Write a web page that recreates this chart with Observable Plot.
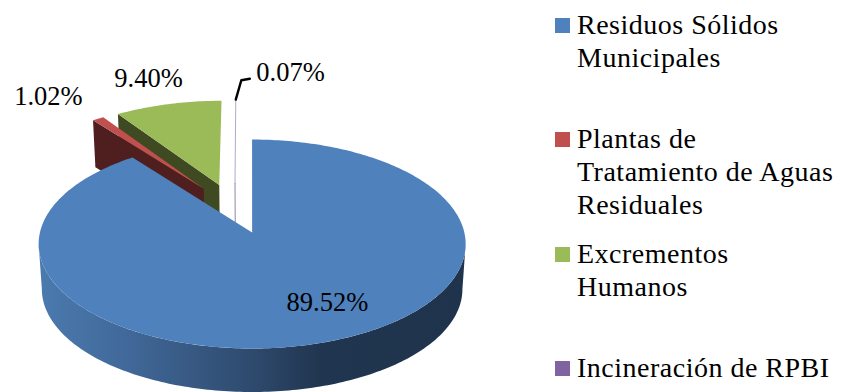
<!DOCTYPE html>
<html lang="es">
<head>
<meta charset="utf-8">
<script src="https://cdn.jsdelivr.net/npm/d3@7"></script>
<script src="https://cdn.jsdelivr.net/npm/@observablehq/plot@0.6"></script>
<style>
  html, body { margin: 0; padding: 0; background: #fff; }
  #chart { position: relative; width: 842px; height: 392px; overflow: hidden; font-family: "Liberation Serif", serif; }
  #chart svg { display: block; }
  .entry { position: absolute; left: 555px; color: #000; font-size: 28px; line-height: 33.2px; letter-spacing: 0.5px; white-space: nowrap; }
  .entry i { position: absolute; left: 0; top: 9.5px; width: 15px; height: 15px; }
  .entry span { display: block; margin-left: 22px; }
</style>
</head>
<body>
<div id="chart"></div>
<script>
// Generación de metano por fuente (porcentaje del total)
const categories = ["Residuos Sólidos Municipales", "Plantas de Tratamiento de Aguas Residuales", "Excrementos Humanos", "Incineración de RPBI"];
const shares = [89.52, 1.02, 9.40, 0.07];
const legendLines = [["Residuos Sólidos", "Municipales"], ["Plantas de", "Tratamiento de Aguas", "Residuales"], ["Excrementos", "Humanos"], ["Incineración de RPBI"]];
const topColors = ["#4f81bd", "#c0504d", "#9bbb59", "#8064a2"];
const cutColors = ["#2c4a6e", "#4f1f1f", "#3f4a23", "#8d8a9c"];
const labels = shares.map((d) => d.toFixed(2) + "%");

// Desplazamiento de cada porción sobre el plano del pastel, en radios
const explodeU = [0.003, -0.236, -0.16, -0.082];
const explodeV = [0, 0.445, 0.485, 0.5];
// Posición de las etiquetas y guía de la porción mínima, en unidades del plano proyectado
const labelX = [0.358, -0.957, -0.485, 0.184];
const labelY = [-0.678, 1.318, 1.492, 1.55];
const leaderX = [-0.048, -0.008];
const leaderY = [1.475, 1.49];
const legendTops = [8, 122, 237, 351];

// Perspectiva: el plano se acerca al frente y la base queda un poco más pequeña
const perspective = 0.11;
const baseShrink = 0.015;
const baseDrop = 0.439;

const total = d3.sum(shares);
const toRad = Math.PI / 180;
const cumulative = d3.cumsum(shares);
const slices = shares.map((d, i) => ({
  name: categories[i],
  start: (cumulative[i] - d) / total * 360,
  end: cumulative[i] / total * 360,
  u0: explodeU[i],
  v0: explodeV[i]
}));

// Lleva un punto del plano (u, v) a altura z (0 cara superior, 1 base) a la vista
function project(u, v, z) {
  const w = 1 + perspective * v;
  const s = 1 - baseShrink * z;
  return {x: s * u / w, y: s * v / w - baseDrop * z};
}
const rim = (s, deg, z) => project(s.u0 + Math.sin(deg * toRad), s.v0 + Math.cos(deg * toRad), z);
const apex = (s, z) => project(s.u0, s.v0, z);
function arc(s, from, to, z) {
  const n = Math.max(2, Math.ceil(Math.abs(to - from)));
  return d3.range(n + 1).map((k) => rim(s, from + (to - from) * k / n, z));
}
const topFace = (s) => [apex(s, 0), ...arc(s, s.start, s.end, 0)];
const cutFace = (s, deg) => [rim(s, deg, 0), apex(s, 0), apex(s, 1), rim(s, deg, 1)];
const wall = (s, from, to) => [...arc(s, from, to, 0), ...arc(s, to, from, 1)];

const [blue, red, green, purple] = slices;
const shape = (points, fill) => Plot.line(points, {x: "x", y: "y", fill, stroke: "none", curve: "linear"});

// La pared visible va de un extremo lateral de la silueta al otro
const silhouette = Math.acos(-perspective) / toRad;

// Degradado de la pared frontal de la porción mayor
const sideGradient = () => {
  const defs = d3.create("svg:defs");
  const g = defs.append("linearGradient").attr("id", "blueWall").attr("gradientUnits", "userSpaceOnUse")
    .attr("x1", 39).attr("x2", 466).attr("y1", 0).attr("y2", 0);
  [[0, "#4b7aae"], [0.2, "#41699a"], [0.5, "#2e4a6d"], [0.66, "#20354f"], [1, "#1f334c"]]
    .forEach(([o, c]) => g.append("stop").attr("offset", o).attr("stop-color", c));
  return defs.node();
};

const plot = Plot.plot({
  width: 842,
  height: 392,
  margin: 0,
  style: {background: "transparent"},
  x: {domain: [-1, 1], range: [38.8, 463.2], axis: null},
  y: {domain: [-1, 1], range: [335.2, 128.8], axis: null},
  marks: [
    sideGradient,
    // Porción mínima: casi una línea
    Plot.line([rim(purple, purple.start, 0), apex(purple, 0)], {x: "x", y: "y", stroke: "#b3a8cc", strokeWidth: 1}),
    Plot.line([apex(purple, 0), apex(purple, 1)], {x: "x", y: "y", stroke: cutColors[3], strokeWidth: 1}),
    // Porciones separadas, de atrás hacia adelante
    shape(cutFace(green, green.start), cutColors[2]),
    shape(topFace(green), topColors[2]),
    shape(cutFace(red, red.start), cutColors[1]),
    shape(topFace(red), topColors[1]),
    // Porción mayor: pared curva y cara superior
    shape(wall(blue, silhouette, 360 - silhouette), "url(#blueWall)"),
    shape(topFace(blue), topColors[0]),
    // Guía de la etiqueta de 0.07 %
    Plot.line([rim(purple, purple.start, 0), {x: leaderX[0], y: leaderY[0]}, {x: leaderX[1], y: leaderY[1]}], {
      x: "x", y: "y", stroke: "#000", strokeWidth: 2.4, curve: "linear"
    }),
    Plot.text(labels, {
      x: (d, i) => labelX[i],
      y: (d, i) => labelY[i],
      text: (d) => d,
      fontSize: 26.5,
      fontFamily: "Liberation Serif",
      fill: "#000",
      lineAnchor: "middle"
    })
  ]
});

const root = document.getElementById("chart");
root.append(plot);

// Leyenda a la derecha del pastel
legendLines.forEach((lines, i) => {
  const entry = document.createElement("div");
  entry.className = "entry";
  entry.style.top = legendTops[i] + "px";
  const box = document.createElement("i");
  box.style.background = topColors[i];
  entry.append(box);
  lines.forEach((line) => {
    const row = document.createElement("span");
    row.textContent = line;
    entry.append(row);
  });
  root.append(entry);
});
</script>
</body>
</html>
